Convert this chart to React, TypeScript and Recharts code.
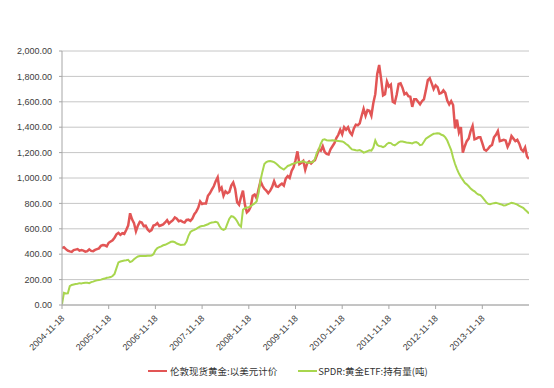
import React from "react";
import { LineChart, Line, XAxis, YAxis, CartesianGrid, Legend } from "recharts";

// semi-monthly points from 2004-11-18 to 2014-11-18
const goldUsd = [
  447, 455, 440, 428, 422, 418, 432, 436, 440, 428, 432, 428, 420, 424, 438, 426, 424, 434, 440, 446,
  466, 472, 470, 462, 490, 500, 510, 530, 556, 568, 552, 565, 560, 590, 625, 722, 675, 645, 580, 625,
  655, 650, 622, 625, 595, 580, 590, 625, 630, 645, 622, 628, 634, 650, 668, 642, 656, 668, 690, 680,
  660, 665, 655, 650, 670, 672, 662, 680, 715, 735, 765, 815, 795, 800, 800, 860, 880, 908, 935, 975,
  1005, 905, 925, 860, 895, 880, 890, 940, 965, 915, 810, 790, 850, 900, 790, 730, 745, 775, 860, 870,
  840, 910, 975, 940, 915, 900, 880, 900, 930, 975, 935, 930, 945, 955, 940, 995, 1015, 1000, 1055, 1085,
  1140, 1210, 1110, 1120, 1135, 1065, 1115, 1130, 1115, 1130, 1140, 1180, 1225, 1215, 1250, 1205, 1190, 1185, 1225, 1250,
  1275, 1315, 1340, 1380, 1345, 1400, 1380, 1400, 1360, 1340, 1390, 1420, 1415, 1430, 1490, 1545, 1490, 1535, 1530, 1490,
  1590, 1660, 1820, 1890, 1780, 1650, 1660, 1760, 1720, 1735, 1600, 1590, 1655, 1740, 1745, 1710, 1660, 1670, 1645, 1640,
  1560, 1620, 1620, 1600, 1580, 1605, 1620, 1690, 1770, 1785, 1745, 1700, 1730, 1715, 1665, 1670, 1690, 1670, 1610, 1580,
  1605, 1575, 1390, 1460, 1360, 1400, 1200, 1250, 1290, 1310, 1370, 1410, 1305, 1310, 1320, 1320, 1275, 1225, 1215, 1230,
  1250, 1260, 1320, 1340, 1370, 1290, 1295, 1300, 1295, 1245, 1275, 1330, 1310, 1290, 1300, 1270, 1225, 1210, 1240, 1170,
  1150,
];

const spdrTons = [
  5, 95, 90, 92, 148, 158, 162, 166, 168, 172, 170, 174, 176, 175, 172, 180, 184, 190, 194, 196,
  200, 205, 208, 214, 216, 220, 228, 245, 290, 335, 342, 346, 350, 352, 356, 338, 345, 360, 372, 382,
  386, 386, 385, 386, 388, 387, 390, 400, 430, 448, 455, 462, 470, 474, 482, 490, 498, 500, 494, 484,
  478, 472, 474, 476, 500, 545, 575, 585, 592, 600, 610, 618, 622, 624, 630, 636, 645, 650, 652, 655,
  650, 620, 598, 592, 600, 640, 680, 700, 695, 682, 660, 630, 616, 750, 762, 768, 770, 778, 790, 800,
  815, 880, 980, 1050, 1110, 1126, 1132, 1134, 1130, 1125, 1114, 1100, 1085, 1075, 1066, 1080, 1095, 1100, 1108, 1113,
  1118, 1124, 1126, 1128, 1132, 1125, 1120, 1121, 1124, 1126, 1150, 1200, 1225, 1270, 1300, 1304, 1298, 1296, 1295, 1298,
  1296, 1294, 1292, 1290, 1288, 1280, 1268, 1257, 1240, 1225, 1222, 1218, 1216, 1220, 1212, 1200, 1205, 1212, 1218, 1216,
  1240, 1296, 1262, 1251, 1250, 1243, 1250, 1268, 1278, 1275, 1262, 1257, 1268, 1280, 1288, 1288, 1284, 1280, 1278, 1276,
  1272, 1280, 1283, 1275, 1258, 1262, 1285, 1310, 1320, 1330, 1340, 1348, 1350, 1353, 1350, 1340, 1335, 1320, 1295, 1257,
  1220, 1160, 1110, 1070, 1035, 1008, 985, 962, 950, 935, 917, 905, 895, 880, 870, 865, 850, 830, 810, 796,
  794, 798, 802, 805, 800, 795, 790, 784, 786, 792, 798, 804, 802, 796, 790, 780, 773, 765, 750, 736,
  721,
];

const yearTicks = [0, 24, 48, 72, 96, 120, 144, 168, 192, 216];
const yearLabels = [
  "2004-11-18", "2005-11-18", "2006-11-18", "2007-11-18", "2008-11-18",
  "2009-11-18", "2010-11-18", "2011-11-18", "2012-11-18", "2013-11-18",
];
const valueTicks = [0, 200, 400, 600, 800, 1000, 1200, 1400, 1600, 1800, 2000];

const data = goldUsd.map((g, i) => ({ i, gold: g, spdr: spdrTons[i] }));

const fmt = (v: number) =>
  v.toLocaleString("en-US", { minimumFractionDigits: 2, maximumFractionDigits: 2 });

function DateTick(props: any) {
  const { x, y, payload } = props;
  const label = yearLabels[yearTicks.indexOf(payload.value)] ?? "";
  return (
    <text
      x={x + 3}
      y={y + 8}
      transform={`rotate(-45, ${x + 3}, ${y + 8})`}
      textAnchor="end"
      fontSize={9}
      fill="#404040"
      fontFamily="'Liberation Sans', Arial, sans-serif"
    >
      {label}
    </text>
  );
}

function LegendBox() {
  const items = [
    { color: "#E25555", label: "伦敦现货黄金:以美元计价", gap: 3, after: 21 },
    { color: "#A8D64E", label: "SPDR:黄金ETF:持有量(吨)", gap: 1, after: 0 },
  ];
  return (
    <div style={{ display: "flex", paddingLeft: 148, paddingTop: 6 }}>
      {items.map((it) => (
        <div key={it.label} style={{ display: "flex", alignItems: "center", marginRight: it.after }}>
          <span style={{ display: "inline-block", width: 19, height: 2, background: it.color, marginRight: it.gap }} />
          <span
            style={{
              fontSize: 9.5,
              lineHeight: "12px",
              color: "#333",
              fontFamily: "'Noto Sans CJK SC', 'Liberation Sans', sans-serif",
              whiteSpace: "nowrap",
            }}
          >
            {it.label}
          </span>
        </div>
      ))}
    </div>
  );
}

export default function App() {
  return (
    <div style={{ position: "absolute", left: 0, top: 0, width: 554, height: 388, background: "#fff" }}>
      <LineChart
        width={554}
        height={388}
        data={data}
        margin={{ top: 51, right: 25, bottom: 0, left: 0 }}
      >
        <CartesianGrid vertical={false} stroke="#c6c6c6" strokeWidth={1} />
        <XAxis
          dataKey="i"
          type="number"
          domain={[0, 240]}
          ticks={yearTicks}
          tick={<DateTick />}
          interval={0}
          height={54}
          stroke="#a6a6a6"
          tickSize={4}
          allowDataOverflow
        />
        <YAxis
          domain={[0, 2000]}
          ticks={valueTicks}
          tickFormatter={fmt}
          width={62}
          stroke="#a6a6a6"
          tickSize={3}
          tickMargin={7}
          interval={0}
          tick={{ fontSize: 9, fill: "#404040", fontFamily: "'Liberation Sans', Arial, sans-serif" }}
        />
        <Legend verticalAlign="bottom" height={29} content={<LegendBox />} />
        <Line
          type="linear"
          dataKey="gold"
          stroke="#E25555"
          strokeWidth={2.5}
          dot={false}
          isAnimationActive={false}
        />
        <Line
          type="linear"
          dataKey="spdr"
          stroke="#A8D64E"
          strokeWidth={2}
          dot={false}
          isAnimationActive={false}
        />
      </LineChart>
    </div>
  );
}
